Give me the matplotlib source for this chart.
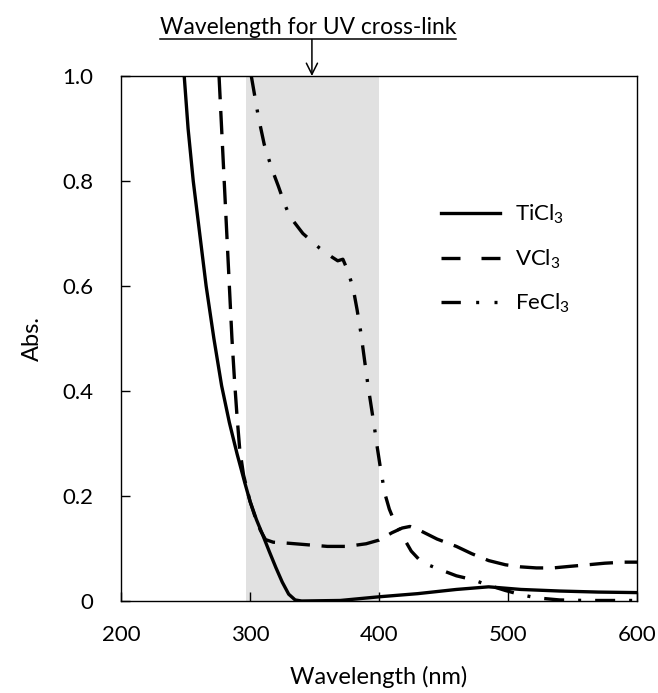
import matplotlib
matplotlib.use('Agg')
import matplotlib.pyplot as plt
from matplotlib.lines import Line2D

plt.rcParams['font.family'] = ['Lato', 'DejaVu Sans']
plt.rcParams['mathtext.default'] = 'regular'

# absorbance spectra (nm, Abs.)
ti_x = [249, 252, 256, 261, 266, 272, 278, 284, 290, 296, 300, 305, 310, 315, 320, 325, 330, 335,
        340, 370, 400, 430, 460, 485, 510, 540, 570, 600]
ti_y = [1.0, 0.9, 0.8, 0.7, 0.6, 0.5, 0.41, 0.34, 0.28, 0.225, 0.19, 0.155, 0.125, 0.094, 0.064,
        0.036, 0.013, 0.002, 0.0, 0.001, 0.008, 0.014, 0.022, 0.027, 0.022, 0.019, 0.017, 0.016]

v_x = [276, 278, 280, 282, 284, 286, 288, 290, 292, 295, 300, 304, 308, 312, 318, 330, 345, 360,
       375, 390, 400, 410, 418, 424, 432, 445, 460, 472, 485, 498, 510, 522, 535, 548, 562, 575,
       590, 600]
v_y = [1.0, 0.9, 0.8, 0.7, 0.6, 0.5, 0.42, 0.35, 0.29, 0.24, 0.19, 0.16, 0.135, 0.117, 0.112,
       0.11, 0.107, 0.104, 0.104, 0.109, 0.116, 0.13, 0.139, 0.142, 0.134, 0.118, 0.104, 0.09,
       0.077, 0.069, 0.065, 0.063, 0.063, 0.066, 0.069, 0.072, 0.074, 0.074]

fe_x = [301, 306.5, 311, 316.8, 322, 327, 331, 341, 354, 363, 368, 372, 376, 380, 383, 386, 389,
        391.5, 394, 396.5, 398.5, 401, 404.5, 408, 411, 418, 425, 433, 445, 460, 472, 485, 498,
        510, 522, 540, 560, 600]
fe_y = [1.0, 0.922, 0.87, 0.824, 0.79, 0.755, 0.732, 0.70, 0.672, 0.656, 0.648, 0.651, 0.628,
        0.595, 0.555, 0.51, 0.455, 0.41, 0.37, 0.33, 0.295, 0.255, 0.205, 0.175, 0.157, 0.125,
        0.095, 0.074, 0.062, 0.048, 0.041, 0.03, 0.02, 0.012, 0.006, 0.002, 0.001, 0.001]

labels = [r'$TiCl_3$', r'$VCl_3$', r'$FeCl_3$']
uv_band = (297, 400)
x_ticks = [200, 300, 400, 500, 600]
y_ticks = [0, 0.2, 0.4, 0.6, 0.8, 1.0]
y_ticklabels = ['0', '0.2', '0.4', '0.6', '0.8', '1.0']

W, H = 658, 693
fig = plt.figure(figsize=(W / 100, H / 100), dpi=100)
ax = fig.add_axes([121 / W, 1 - 601 / H, (637 - 121) / W, (601 - 76) / H])

ax.axvspan(uv_band[0], uv_band[1], color='#e1e1e1', lw=0, zorder=0)
lw = 2.4
ax.plot(ti_x, ti_y, color='black', lw=lw)
ax.plot(v_x, v_y, color='black', lw=lw, dashes=(7, 3.5))
ax.plot(fe_x, fe_y, color='black', lw=lw, dashes=(6, 4.2, 0.9, 4.2))

ax.set_xlim(200, 600)
ax.set_ylim(0, 1)
ax.set_xticks(x_ticks)
ax.set_yticks(y_ticks)
ax.set_yticklabels(y_ticklabels)
ax.tick_params(direction='in', length=6.5, width=1.0, labelsize=16, colors='black')
ax.tick_params(axis='x', pad=17)
ax.tick_params(axis='y', pad=20)
for s in ax.spines.values():
    s.set_linewidth(1.0)

ax.set_xlabel('Wavelength (nm)', fontsize=17, labelpad=15)
ax.set_ylabel('Abs.', fontsize=17, labelpad=14)

handles = [Line2D([], [], color='black', lw=lw),
           Line2D([], [], color='black', lw=lw, dashes=(5.7, 6.3)),
           Line2D([], [], color='black', lw=lw, dashes=(5.8, 4.6, 0.9, 4.6, 0.9, 4.6))]
ax.legend(handles, labels, loc='upper left', bbox_to_anchor=(0.62, 0.758), frameon=False,
          fontsize=16, handlelength=2.65, handletextpad=0.7, labelspacing=0.95,
          borderpad=0, borderaxespad=0)

# label above the plot with underline and arrow pointing into the UV band
t = fig.text(308 / W, 1 - 27 / H, 'Wavelength for UV cross-link', ha='center', va='center',
             fontsize=16.4)
fig.canvas.draw()
bb = t.get_window_extent()
fig.add_artist(Line2D([bb.x0 / W, bb.x1 / W], [1 - 39 / H] * 2, transform=fig.transFigure,
                      color='black', lw=1.1))
ax.annotate('', xy=(348, 1.0), xycoords=('data', 'axes fraction'),
            xytext=(348, 1 - 39.5 / H), textcoords=('data', 'figure fraction'),
            arrowprops=dict(arrowstyle='->', color='black', lw=1.1, mutation_scale=20,
                            shrinkA=0, shrinkB=0),
            annotation_clip=False)

fig.savefig('out.png', dpi=100)
